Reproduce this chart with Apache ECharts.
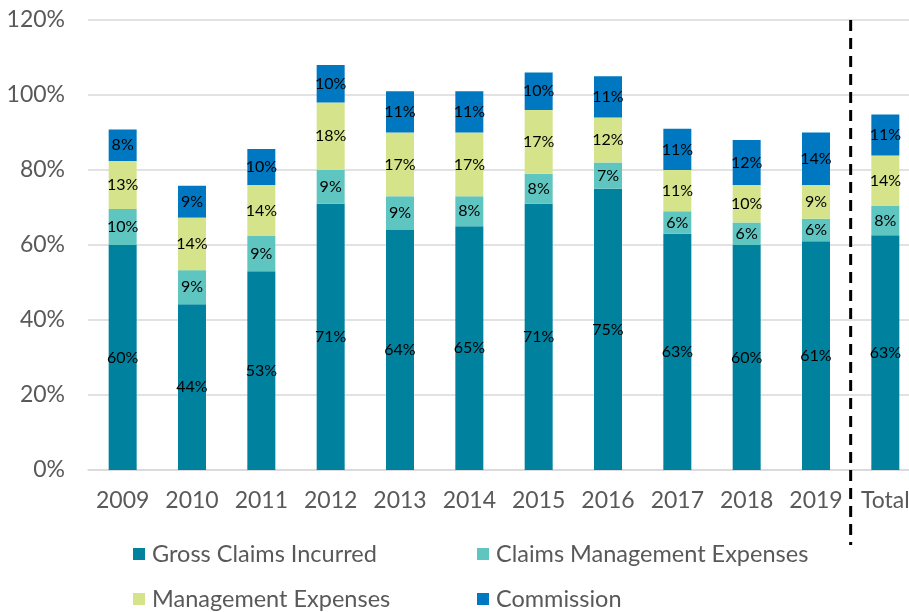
<!DOCTYPE html>
<html><head><meta charset="utf-8">
<script src="https://cdn.jsdelivr.net/npm/echarts@6/dist/echarts.min.js"></script>
<style>html,body{margin:0;padding:0;background:#fff;overflow:hidden;width:909px;height:612px}#c{width:920px;height:612px}</style>
</head><body><div id="c"></div>
<script>
const categories = ['2009','2010','2011','2012','2013','2014','2015','2016','2017','2018','2019','Total'];
const grossClaims = [60, 44.2, 53, 71, 64, 65, 71, 75, 63, 60, 61, 62.6];
const claimsMgmt = [9.6, 9.1, 9.4, 9, 9, 8, 8, 7, 6, 6, 6, 7.8];
const mgmtExp = [12.8, 14, 13.6, 18, 17, 17, 17, 12, 11, 10, 9, 13.5];
const commission = [8.4, 8.5, 9.6, 10, 11, 11, 10, 11, 11, 12, 14, 10.9];
const yTicks = [0, 20, 40, 60, 80, 100, 120];

const names = ['Gross Claims Incurred','Claims Management Expenses','Management Expenses','Commission'];
const colors = ['#00829F','#5FC5C0','#D5E38A','#0078C1'];
const values = [grossClaims, claimsMgmt, mgmtExp, commission];
const FONT = 'Lato';

const chart = echarts.init(document.getElementById('c'), null, {renderer:'canvas'});
const series = values.map((v, i) => ({
  name: names[i], type: 'bar', stack: 'all', data: v, barWidth: 28,
  itemStyle: {color: colors[i]},
  label: {show: true, position: 'inside', color: '#000', fontFamily: FONT, fontSize: 16,
    formatter: p => Math.round(p.value) + '%'}
}));
const legendPos = [[133, 542], [477, 542], [133, 587], [477, 587]];
const legends = names.map((n, i) => ({
  data: [n], left: legendPos[i][0], top: legendPos[i][1], icon: 'rect', padding: 0,
  itemWidth: 12, itemHeight: 12, selectedMode: false,
  textStyle: {fontFamily: FONT, fontSize: 23.5, lineHeight: 24, color: '#595959', padding: [0,0,0,2]}
}));
chart.setOption({
  animation: false,
  color: colors,
  legend: legends,
  grid: {left: 88, right: 0, top: 20, bottom: 142, containLabel: false},
  xAxis: {type: 'category', data: categories,
    axisLine: {show: true, lineStyle: {color: '#d9d9d9', width: 1.5}},
    axisTick: {show: false},
    axisLabel: {interval: 0, hideOverlap: false, fontFamily: FONT, fontSize: 23, color: '#595959', margin: 19}},
  yAxis: {type: 'value', min: yTicks[0], max: yTicks[yTicks.length-1], interval: 20,
    axisLine: {show: false}, axisTick: {show: false},
    splitLine: {lineStyle: {color: '#d9d9d9', width: 1.5}},
    axisLabel: {fontFamily: FONT, fontSize: 23, color: '#595959', margin: 23, formatter: v => v + '%'}},
  series: series
});
const xa = chart.convertToPixel({xAxisIndex: 0}, '2019');
const xb = chart.convertToPixel({xAxisIndex: 0}, 'Total');
const yTop = chart.convertToPixel({yAxisIndex: 0}, 120);
const yBot = chart.convertToPixel({yAxisIndex: 0}, 0);
const xm = (xa + xb) / 2;
chart.setOption({graphic: [{type: 'line', shape: {x1: xm, y1: yTop, x2: xm, y2: yBot + 75},
  style: {stroke: '#000', lineWidth: 3, lineDash: [11, 7]}, z: 100}]});
</script></body></html>
